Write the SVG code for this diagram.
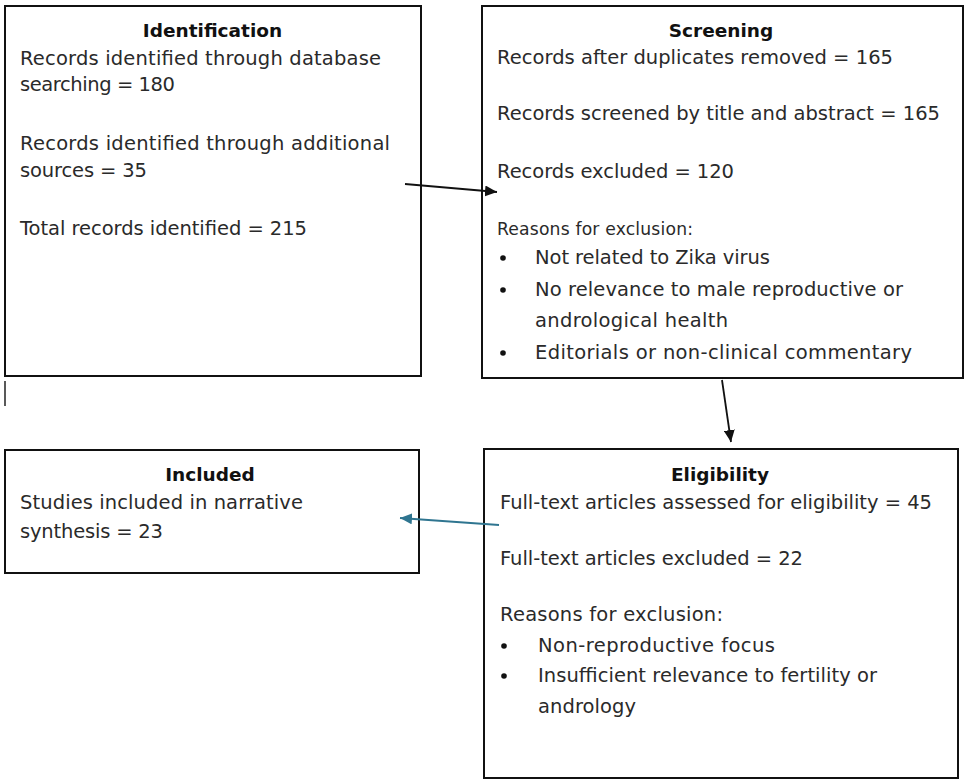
<svg xmlns="http://www.w3.org/2000/svg" width="969" height="783" viewBox="0 0 969 783">
  <style>
    .box { fill: #ffffff; stroke: #111111; stroke-width: 2; }
    .t { font-family: "DejaVu Sans", "Liberation Sans", sans-serif; font-size: 19.5px; fill: #2a2a2a; }
    .s { font-size: 17.2px; }
    .h { font-family: "DejaVu Sans", "Liberation Sans", sans-serif; font-size: 18.5px; font-weight: bold; fill: #111111; text-anchor: middle; }
    .bul { fill: #111111; }
    .conn { fill: none; stroke-width: 1.8; }
  </style>
  <defs>
    <marker id="ahBlack" markerUnits="userSpaceOnUse" markerWidth="13" markerHeight="11" refX="12" refY="5.5" orient="auto">
      <path d="M0,0 L12,5.5 L0,11 z" fill="#111111"/>
    </marker>
    <marker id="ahBlue" markerUnits="userSpaceOnUse" markerWidth="13" markerHeight="11" refX="12" refY="5.5" orient="auto">
      <path d="M0,0 L12,5.5 L0,11 z" fill="#2f7590"/>
    </marker>
  </defs>
  <rect width="969" height="783" fill="#ffffff"/>

  <g id="identification">
    <rect class="box" x="5" y="6" width="416" height="370"/>
    <text class="h" x="212.5" y="37">Identification</text>
    <text class="t" x="20" y="65" textLength="361">Records identified through database</text>
    <text class="t" x="20" y="91" textLength="155">searching = 180</text>
    <text class="t" x="20" y="150" textLength="370">Records identified through additional</text>
    <text class="t" x="20" y="177" textLength="127">sources = 35</text>
    <text class="t" x="20" y="235" textLength="287">Total records identified = 215</text>
  </g>

  <g id="screening">
    <rect class="box" x="482" y="6" width="481" height="372"/>
    <text class="h" x="721" y="37">Screening</text>
    <text class="t" x="497" y="64" textLength="396">Records after duplicates removed = 165</text>
    <text class="t" x="497" y="120" textLength="443">Records screened by title and abstract = 165</text>
    <text class="t" x="497" y="178" textLength="237">Records excluded = 120</text>
    <text class="t s" x="497" y="235" textLength="196">Reasons for exclusion:</text>
    <circle class="bul" cx="503" cy="258" r="2.8"/>
    <text class="t" x="535" y="264" textLength="235">Not related to Zika virus</text>
    <circle class="bul" cx="503" cy="290" r="2.8"/>
    <text class="t" x="535" y="296" textLength="368">No relevance to male reproductive or</text>
    <text class="t" x="535" y="327" textLength="193">andrological health</text>
    <circle class="bul" cx="503" cy="353" r="2.8"/>
    <text class="t" x="535" y="359" textLength="377">Editorials or non-clinical commentary</text>
  </g>

  <g id="eligibility">
    <rect class="box" x="484" y="449" width="474" height="329"/>
    <text class="h" x="720" y="481">Eligibility</text>
    <text class="t" x="500" y="509" textLength="432">Full-text articles assessed for eligibility = 45</text>
    <text class="t" x="500" y="565" textLength="303">Full-text articles excluded = 22</text>
    <text class="t" x="500" y="621" textLength="223">Reasons for exclusion:</text>
    <circle class="bul" cx="504" cy="646" r="2.8"/>
    <text class="t" x="538" y="652" textLength="237">Non-reproductive focus</text>
    <circle class="bul" cx="504" cy="676" r="2.8"/>
    <text class="t" x="538" y="682" textLength="339">Insufficient relevance to fertility or</text>
    <text class="t" x="538" y="713" textLength="98">andrology</text>
  </g>

  <g id="included">
    <rect class="box" x="5" y="450" width="414" height="123"/>
    <text class="h" x="210" y="481">Included</text>
    <text class="t" x="20" y="509" textLength="283">Studies included in narrative</text>
    <text class="t" x="20" y="538" textLength="143">synthesis = 23</text>
  </g>

  <line x1="5" y1="381" x2="5" y2="406" stroke="#222222" stroke-width="1.5"/>

  <g id="connectors">
    <line class="conn" x1="405" y1="184" x2="497" y2="192" stroke="#111111" marker-end="url(#ahBlack)"/>
    <line class="conn" x1="722" y1="380" x2="731" y2="442" stroke="#111111" marker-end="url(#ahBlack)"/>
    <line class="conn" x1="499" y1="525" x2="400" y2="518" stroke="#2f7590" marker-end="url(#ahBlue)"/>
  </g>
</svg>
